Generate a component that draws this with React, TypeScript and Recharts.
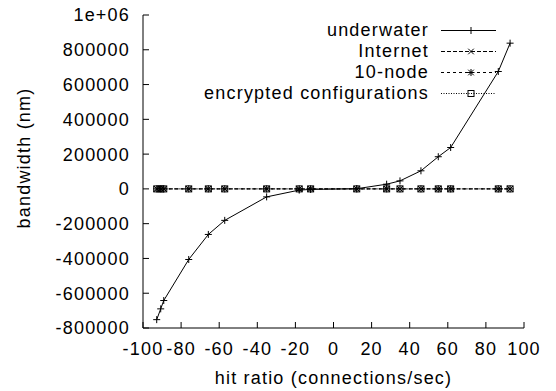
import { Label, Legend, Line, LineChart, XAxis, YAxis } from 'recharts'

const hitRatio = [-92.8, -90.7, -89.1, -76, -65.7, -57.1, -35.1, -18, -12, 12.2, 27.9, 34.9, 45.9, 55, 61.5, 86.5, 92.7]
const underwater = [-752000, -690000, -642000, -406000, -262000, -181000, -46000, -7000, -3000, 1000, 27000, 46000, 104000, 185000, 238000, 675000, 838000]
const internet = [0, 0, 0, 0, 0, 0, 0, 0, 0, 0, 0, 0, 0, 0, 0, 0, 0]
const tenNode = [0, 0, 0, 0, 0, 0, 0, 0, 0, 0, 0, 0, 0, 0, 0, 0, 0]
const encrypted = [0, 0, 0, 0, 0, 0, 0, 0, 0, 0, 0, 0, 0, 0, 0, 0, 0]

const xTicks = [-100, -80, -60, -40, -20, 0, 20, 40, 60, 80, 100]
const yTicks = [-800000, -600000, -400000, -200000, 0, 200000, 400000, 600000, 800000, 1000000]

const data = hitRatio.map((x, i) => ({
  x,
  underwater: underwater[i],
  internet: internet[i],
  tenNode: tenNode[i],
  encrypted: encrypted[i],
}))

type MarkerKind = 'plus' | 'cross' | 'star' | 'square'

const series: { key: string; name: string; dash?: string; marker: MarkerKind }[] = [
  { key: 'underwater', name: 'underwater', marker: 'plus' },
  { key: 'internet', name: 'Internet', dash: '4 2', marker: 'cross' },
  { key: 'tenNode', name: '10-node', dash: '3 3', marker: 'star' },
  { key: 'encrypted', name: 'encrypted configurations', dash: '1 1.5', marker: 'square' },
]

const Marker = ({ kind, cx, cy }: { kind: MarkerKind; cx: number; cy: number }) => {
  const s = 3.5
  const plus = `M${cx - s},${cy}H${cx + s}M${cx},${cy - s}V${cy + s}`
  const cross = `M${cx - s * 0.8},${cy - s * 0.8}L${cx + s * 0.8},${cy + s * 0.8}M${cx - s * 0.8},${cy + s * 0.8}L${cx + s * 0.8},${cy - s * 0.8}`
  if (kind === 'square') {
    return <rect x={cx - 3} y={cy - 3} width={6} height={6} fill="none" stroke="#000" strokeWidth={1} />
  }
  const d = kind === 'plus' ? plus : kind === 'cross' ? cross : plus + cross
  return <path d={d} fill="none" stroke="#000" strokeWidth={1} />
}

const fmt = (v: number) => (v === 1000000 ? '1e+06' : String(v))

const LegendBox = () => (
  <div>
    {series.map((s) => (
      <div key={s.key} style={{ display: 'flex', alignItems: 'center', justifyContent: 'flex-end', height: 21 }}>
        <span style={{ marginRight: 12, lineHeight: '21px', whiteSpace: 'nowrap' }}>{s.name}</span>
        <svg width={56} height={21}>
          <line x1={0} y1={10.5} x2={55} y2={10.5} stroke="#000" strokeWidth={1} strokeDasharray={s.dash} />
          <Marker kind={s.marker} cx={30} cy={10.5} />
        </svg>
      </div>
    ))}
  </div>
)

export default function App() {
  return (
    <div
      style={{
        position: 'absolute',
        left: 0,
        top: 0,
        width: 556,
        height: 391,
        background: '#fff',
        fontFamily: '"Liberation Sans", Arial, sans-serif',
        fontSize: 18,
        letterSpacing: '1.2px',
        color: '#000',
      }}
    >
      <LineChart width={556} height={391} data={data} margin={{ top: 15, right: 32, bottom: 23, left: 43 }}>
        <XAxis
          xAxisId="b"
          dataKey="x"
          type="number"
          domain={[-100, 100]}
          ticks={xTicks}
          height={40}
          stroke="#000"
          tickSize={-6}
          tickMargin={20}
          tick={{ fill: '#000', fontSize: 18 }}
          interval={0}
        >
          <Label
            content={(p: any) => (
              <text x={p.viewBox.x + p.viewBox.width / 2} y={p.viewBox.y + 56} textAnchor="middle" fill="#000" fontSize={18}>
                hit ratio (connections/sec)
              </text>
            )}
          />
        </XAxis>
        <XAxis
          xAxisId="t"
          orientation="top"
          dataKey="x"
          type="number"
          domain={[-100, 100]}
          ticks={xTicks}
          height={0}
          stroke="#000"
          tickSize={-6}
          tick={false}
          interval={0}
        />
        <YAxis
          yAxisId="l"
          type="number"
          domain={[-800000, 1000000]}
          ticks={yTicks}
          width={100}
          stroke="#000"
          tickSize={-6}
          tickMargin={19}
          tick={{ fill: '#000', fontSize: 18 }}
          tickFormatter={fmt}
          interval={0}
        >
          <Label
            content={() => (
              <text x={29.5} y={158} transform="rotate(-90 29.5 158)" textAnchor="middle" fill="#000" fontSize={18}>
                bandwidth (nm)
              </text>
            )}
          />
        </YAxis>
        <YAxis
          yAxisId="r"
          orientation="right"
          type="number"
          domain={[-800000, 1000000]}
          ticks={yTicks}
          width={0}
          stroke="#000"
          tickSize={-6}
          tick={false}
          interval={0}
        />
        <Legend
          verticalAlign="middle"
          align="center"
          layout="horizontal"
          content={() => <LegendBox />}
          wrapperStyle={{ top: 19.5, right: 59, left: 'auto', width: 'auto' }}
        />
        {series.map((s) => (
          <Line
            key={s.key}
            xAxisId="b"
            yAxisId="l"
            dataKey={s.key}
            name={s.name}
            stroke="#000"
            strokeWidth={1}
            strokeDasharray={s.dash}
            isAnimationActive={false}
            dot={(p: any) => <Marker key={`${s.key}-${p.index}`} kind={s.marker} cx={p.cx} cy={p.cy} />}
            activeDot={false}
          />
        ))}
      </LineChart>
    </div>
  )
}
